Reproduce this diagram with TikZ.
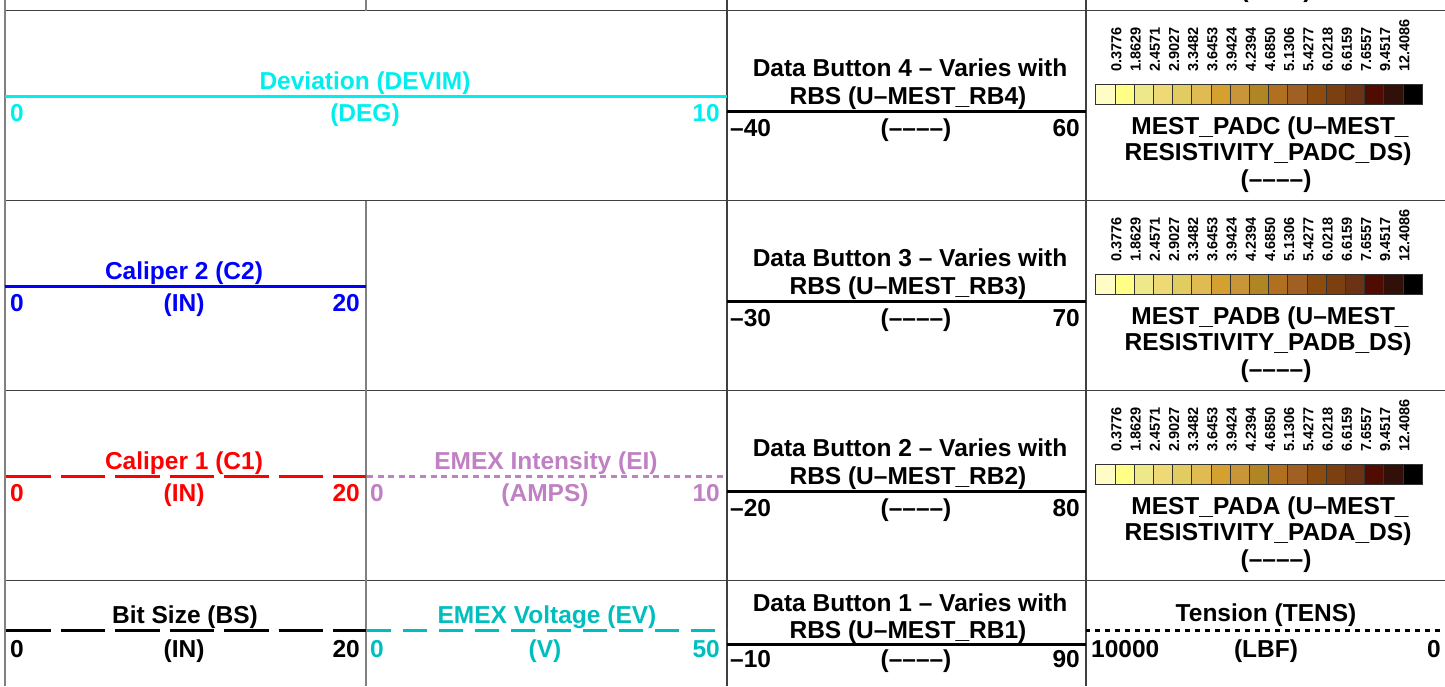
\documentclass[tikz,border=0pt]{standalone}
\usepackage{fontspec}
\setmainfont{Liberation Sans}
\definecolor{devcol}{HTML}{00EEEE}
\definecolor{calTwo}{HTML}{0000FF}
\definecolor{calOne}{HTML}{FF0000}
\definecolor{eicol}{HTML}{C080C4}
\definecolor{evcol}{HTML}{00BEBE}
\definecolor{gridcol}{HTML}{404040}
\definecolor{gridlight}{HTML}{808080}
% resistivity colour scale, light to dark
\definecolor{cb1}{HTML}{FFFCC6}
\definecolor{cb2}{HTML}{FFFF88}
\definecolor{cb3}{HTML}{EDE88A}
\definecolor{cb4}{HTML}{EED974}
\definecolor{cb5}{HTML}{E0CC60}
\definecolor{cb6}{HTML}{E0BB52}
\definecolor{cb7}{HTML}{D4A030}
\definecolor{cb8}{HTML}{C89638}
\definecolor{cb9}{HTML}{B08624}
\definecolor{cb10}{HTML}{B07020}
\definecolor{cb11}{HTML}{A06024}
\definecolor{cb12}{HTML}{8C4C10}
\definecolor{cb13}{HTML}{7C4010}
\definecolor{cb14}{HTML}{6C3214}
\definecolor{cb15}{HTML}{500C00}
\definecolor{cb16}{HTML}{301008}
\definecolor{cb17}{HTML}{000000}
\begin{document}
\begin{tikzpicture}[x=1pt,y=-1pt,
  txt/.style={font=\fontsize{24.5}{28}\selectfont\bfseries, inner sep=0pt, anchor=base},
  txtl/.style={txt, anchor=base west},
  txtr/.style={txt, anchor=base east},
  scaletick/.style={font=\fontsize{14.5}{16}\selectfont\bfseries, inner sep=0pt, rotate=90, anchor=west},
  hrule/.style={draw=gridcol, line width=1.5pt},
  vrule/.style={draw=gridlight, line width=1.8pt},
  vruledark/.style={draw=gridcol, line width=1.6pt},
  trk/.style={line width=3pt},
  cell/.style={draw=black!80, line width=0.8pt},
]
\useasboundingbox (0,0) rectangle (1445,686);
\clip (0,0) rectangle (1445,686);

% ---------- grid ----------
\foreach \yy in {10.5,200.5,390.5,580.5}
  \draw[hrule] (5,\yy) -- (1445,\yy);
\draw[vrule] (5,0) -- (5,686);
\draw[vrule] (366,0) -- (366,10.5);
\draw[vrule] (366,200.5) -- (366,686);
\draw[vruledark] (727,0) -- (727,686);
\draw[vruledark] (1086,0) -- (1086,686);

% ---------- Deviation ----------
\draw[trk, devcol] (5,96.7) -- (727,96.7);
\node[txt, devcol] (devT) at (365,89.3) {Deviation (DEVIM)};
\node[txtl, devcol] (devL) at (10,121.7) {0};
\node[txt, devcol] (devU) at (365,121.7) {(DEG)};
\node[txtr, devcol] (devR) at (720,121.7) {10};

% ---------- Caliper 2 ----------
\draw[trk, calTwo] (5,286.7) -- (366,286.7);
\node[txt, calTwo] (c2T) at (184,279.3) {Caliper 2 (C2)};
\node[txtl, calTwo] (c2L) at (10,311.7) {0};
\node[txt, calTwo] (c2U) at (184,311.7) {(IN)};
\node[txtr, calTwo] (c2R) at (360,311.7) {20};

% ---------- Caliper 1 ----------
\draw[trk, calOne, dash pattern=on 44.5pt off 10pt] (6,476.5) -- (366,476.5);
\node[txt, calOne] (c1T) at (184,469.3) {Caliper 1 (C1)};
\node[txtl, calOne] (c1L) at (10,501.7) {0};
\node[txt, calOne] (c1U) at (184,501.7) {(IN)};
\node[txtr, calOne] (c1R) at (360,501.7) {20};

% ---------- EMEX Intensity ----------
\draw[line width=2.6pt, eicol, dash pattern=on 6pt off 4.6pt] (367,476.5) -- (727,476.5);
\node[txt, eicol] (eiT) at (546,469.3) {EMEX Intensity (EI)};
\node[txtl, eicol] (eiL) at (370,501.7) {0};
\node[txt, eicol] (eiU) at (545,501.7) {(AMPS)};
\node[txtr, eicol] (eiR) at (720,501.7) {10};

% ---------- Bit Size ----------
\draw[trk, black, dash pattern=on 44.5pt off 10pt] (6,630.5) -- (366,630.5);
\node[txt] (bsT) at (185,623) {Bit Size (BS)};
\node[txtl] (bsL) at (10,657) {0};
\node[txt] (bsU) at (184,657) {(IN)};
\node[txtr] (bsR) at (360,657) {20};

% ---------- EMEX Voltage ----------
\draw[trk, evcol, dash pattern=on 24pt off 12pt] (367,630.5) -- (727,630.5);
\node[txt, evcol] (evT) at (547,623) {EMEX Voltage (EV)};
\node[txtl, evcol] (evL) at (370,657) {0};
\node[txt, evcol] (evU) at (545,657) {(V)};
\node[txtr, evcol] (evR) at (720,657) {50};

% ---------- Data buttons 2-4 ----------
\foreach \T/\n/\lo/\hi in {10/4/–40/60, 200/3/–30/70, 390/2/–20/80} {
  \draw[trk] (727,\T+101) -- (1086,\T+101);
  \node[txt] (db\n a) at (910,\T+66) {Data Button \n\ – Varies with};
  \node[txt] (db\n b) at (908,\T+94) {RBS (U–MEST\_RB\n)};
  \node[txtl] (db\n L) at (730,\T+126) {\lo};
  \node[txt] (db\n U) at (916,\T+126) {(––––)};
  \node[txtr] (db\n R) at (1080,\T+126) {\hi};
}

% ---------- Data button 1 ----------
\draw[trk] (727,644) -- (1086,644);
\node[txt] (db1a) at (910,611) {Data Button 1 – Varies with};
\node[txt] (db1b) at (908,638.3) {RBS (U–MEST\_RB1)};
\node[txtl] (db1L) at (730,667.3) {–10};
\node[txt] (db1U) at (916,667.3) {(––––)};
\node[txtr] (db1R) at (1080,667.3) {90};

% ---------- Resistivity pads ----------
\foreach \T/\p in {10/C, 200/B, 390/A} {
  \foreach \v [count=\k] in {0.3776,1.8629,2.4571,2.9027,3.3482,3.6453,3.9424,4.2394,4.6850,5.1306,5.4277,6.0218,6.6159,7.6557,9.4517,12.4086}
    \node[scaletick] (tk\p\k) at ({1097.2+19.2*\k},\T+61.7) {\v};
  \foreach \k in {1,...,17}
    \path[cell, fill=cb\k] ({1095.7+19.2*(\k-1)},\T+74) rectangle ({1095.7+19.2*\k},\T+94.3);
  \node[txt] (pad\p a) at (1270,\T+124) {MEST\_PAD\p\ (U–MEST\_};
  \node[txt] (pad\p b) at (1268,\T+150.7) {RESISTIVITY\_PAD\p\_DS)};
  \node[txt] (pad\p c) at (1276,\T+177.5) {(––––)};
}
% unit label of the pad track above the visible strip
\node[txt] (padDc) at (1276,-2.5) {(––––)};

% ---------- Tension ----------
\draw[line width=2.6pt, black, dash pattern=on 5pt off 5pt, dash phase=1pt] (1086,630.5) -- (1445,630.5);
\node[txt] (tnT) at (1266,621.7) {Tension (TENS)};
\node[txtl] (tnL) at (1091,657.7) {10000};
\node[txt] (tnU) at (1266,657.7) {(LBF)};
\node[txtr] (tnR) at (1441,657.7) {0};
\end{tikzpicture}
\end{document}
